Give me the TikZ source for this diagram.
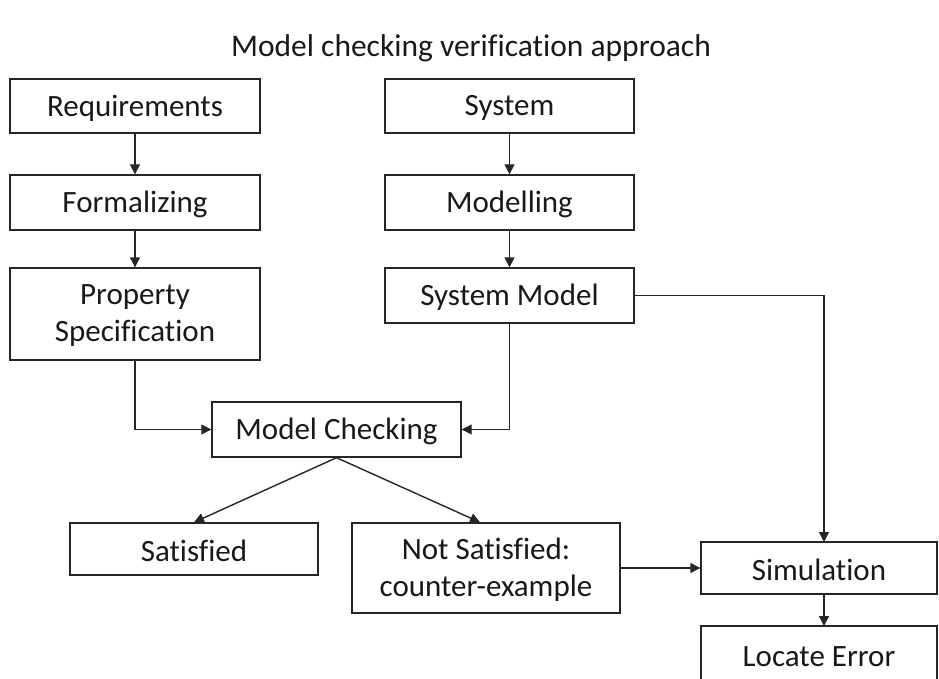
\documentclass[tikz,border=0pt]{standalone}
\usepackage{fontspec}
\setmainfont{Carlito}[Ligatures={NoCommon}]
\usetikzlibrary{arrows.meta}
\newcommand\lowtxt[1]{\raisebox{-2pt}[\height][\depth]{#1}}
\begin{document}
\begin{tikzpicture}[x=1pt,y=-1pt,
  box/.style={draw=black!85, line width=1.4pt, fill=white, inner sep=0pt, align=center,
    font=\fontsize{31}{37}\selectfont, text=black!90},
  conn/.style={draw=black!85, line width=1.4pt, -{Triangle[length=10pt,width=10pt]}}]
\useasboundingbox (0,0) rectangle (939,679);
\clip (0,0) rectangle (939,679);
\node[font=\fontsize{31.5}{38}\selectfont, text=black!90] (title) at (471,48) {Model checking verification approach};
\node[box, minimum width=250pt, minimum height=54pt] (req) at (135,106) {\lowtxt{Requirements}};
\node[box, minimum width=250pt, minimum height=55pt] (form) at (135,202.5) {\lowtxt{Formalizing}};
\node[box, minimum width=250pt, minimum height=92pt] (prop) at (135,314) {\lowtxt{Property}\\\lowtxt{Specification}};
\node[box, minimum width=249pt, minimum height=54pt] (sys) at (509.5,106) {\lowtxt{System}};
\node[box, minimum width=249pt, minimum height=55pt] (mod) at (509.5,202.5) {\lowtxt{Modelling}};
\node[box, minimum width=249pt, minimum height=55pt] (sysm) at (509.5,295.5) {\lowtxt{System Model}};
\node[box, minimum width=249pt, minimum height=55pt] (mc) at (336.5,429.5) {\lowtxt{Model Checking}};
\node[box, minimum width=248pt, minimum height=52pt] (sat) at (194,549) {\lowtxt{Satisfied}};
\node[box, minimum width=268pt, minimum height=90pt] (nsat) at (486,568) {\lowtxt{Not Satisfied:}\\\lowtxt{counter-example}};
\node[box, minimum width=236pt, minimum height=52pt] (sim) at (819,568) {\lowtxt{Simulation}};
\node[box, minimum width=236pt, minimum height=58pt] (loc) at (819,655) {\lowtxt{Locate Error}};
\coordinate (simtop) at (824,542);
\coordinate (loctop) at (824,626);
\coordinate (simbot) at (824,594);
\draw[conn] (req) -- (form);
\draw[conn] (form) -- (prop);
\draw[conn] (sys) -- (mod);
\draw[conn] (mod) -- (sysm);
\draw[conn] (prop.south) |- (mc.west);
\draw[conn] (sysm.south) |- (mc.east);
\draw[conn] (sysm.east) -| (simtop);
\draw[conn] (mc.south) -- (sat.north);
\draw[conn] (mc.south) -- ([xshift=-6pt]nsat.north);
\draw[conn] (nsat.east) -- (sim.west);
\draw[conn] (simbot) -- (loctop);
\end{tikzpicture}
\end{document}
